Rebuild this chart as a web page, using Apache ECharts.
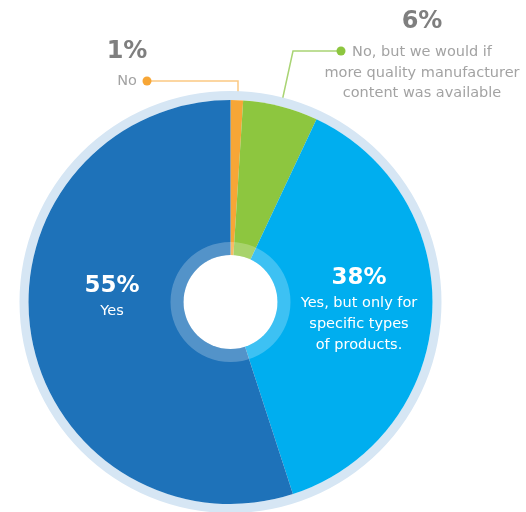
<!DOCTYPE html>
<html>
<head>
<meta charset="utf-8">
<script src="https://cdn.jsdelivr.net/npm/echarts@6/dist/echarts.min.js"></script>
<style>html,body{margin:0;padding:0;background:#fff}#c{width:526px;height:512px}</style>
</head>
<body>
<div id="c"></div>
<script>
// Data
const categories = ['No', 'No, but we would if more quality manufacturer content was available', 'Yes, but only for specific types of products.', 'Yes'];
const values = [1, 6, 38, 55];
const labelLines = [['No'], ['No, but we would if', 'more quality manufacturer', 'content was available'], ['Yes, but only for', 'specific types', 'of products.'], ['Yes']];
const colors = ['#f7a636', '#8dc63f', '#00aeef', '#1e72b9'];

// Layout (styles/positions)
const C = [230.5, 302];
const R = 202;
const labelPos = [[127, 66], [422, 53], [359, 310], [112, 297]];
const linePts = [
  [[238, 100], [238, 81], [147, 81]],
  [[281, 106], [293, 51], [341, 51]],
  null, null
];
const lineColors = ['#fbc983', '#a9d474'];

const chart = echarts.init(document.getElementById('c'), null, {renderer: 'canvas'});

const data = values.map((v, i) => {
  const outside = i < 2;
  const pct = v + '%';
  const txt = labelLines[i].map(l => '{t|' + l + '}').join('\n');
  return {
    name: categories[i],
    value: v,
    itemStyle: {color: colors[i]},
    label: outside ? {
      show: true,
      position: 'outside',
      formatter: '{p|' + pct + '}\n' + txt,
      rich: {
        p: {fontFamily: 'DejaVu Sans', fontWeight: 'bold', fontSize: 24, color: '#7f7f7f', lineHeight: i === 0 ? 30 : 40, align: 'center'},
        t: {fontFamily: 'DejaVu Sans', fontSize: 14.5, color: '#a3a3a3', lineHeight: i === 0 ? 28 : 20.5, align: 'center'}
      }
    } : {
      show: true,
      position: 'inside',
      formatter: '{p|' + pct + '}\n' + txt,
      rich: {
        p: {fontFamily: 'DejaVu Sans', fontWeight: 'bold', fontSize: 23, color: '#ffffff', lineHeight: 28, align: 'center'},
        t: {fontFamily: 'DejaVu Sans', fontSize: 14.5, color: '#ffffff', lineHeight: 21, align: 'center'}
      }
    },
    labelLine: outside ? {show: true, lineStyle: {color: lineColors[i], width: 1.5}} : {show: false}
  };
});

chart.setOption({
  animation: false,
  series: [
    {
      type: 'pie', silent: true, center: C, radius: [R, R + 9],
      label: {show: false}, labelLine: {show: false},
      data: [{value: 1, itemStyle: {color: '#d6e6f4'}}]
    },
    {
      type: 'pie', center: C, radius: [0, R], startAngle: 90, clockwise: true,
      silent: true, avoidLabelOverlap: false,
      data: data,
      labelLayout: function (p) {
        const i = p.dataIndex;
        const o = {x: labelPos[i][0], y: labelPos[i][1], align: 'center', verticalAlign: 'middle'};
        if (linePts[i]) o.labelLinePoints = linePts[i];
        return o;
      }
    },
    {
      type: 'pie', silent: true, center: C, radius: [47, 60],
      label: {show: false}, labelLine: {show: false},
      data: [{value: 1, itemStyle: {color: 'rgba(255,255,255,0.24)'}}]
    },
    {
      type: 'pie', silent: true, center: C, radius: [0, 47],
      label: {show: false}, labelLine: {show: false},
      data: [{value: 1, itemStyle: {color: '#ffffff'}}]
    }
  ],
  graphic: [
    {type: 'circle', shape: {cx: 147, cy: 81, r: 4.5}, style: {fill: colors[0]}, z: 100},
    {type: 'circle', shape: {cx: 341, cy: 51, r: 4.5}, style: {fill: colors[1]}, z: 100}
  ]
});
</script>
</body>
</html>
